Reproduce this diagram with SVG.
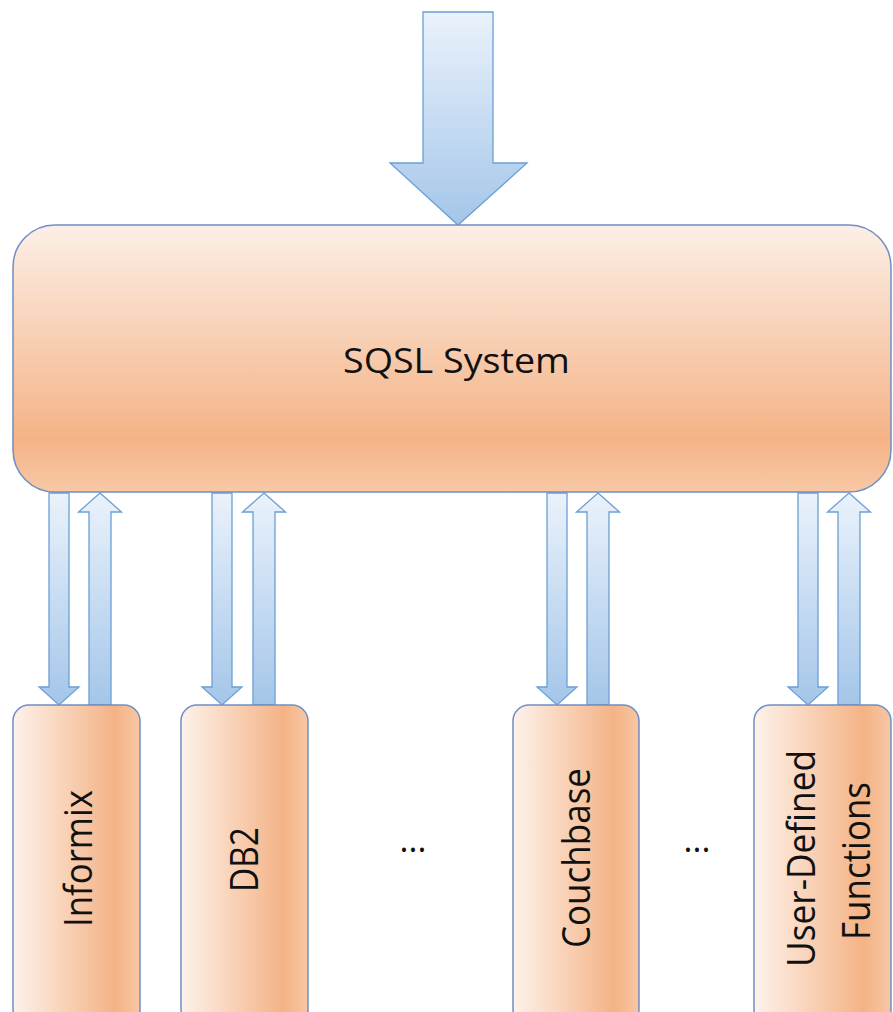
<svg xmlns="http://www.w3.org/2000/svg" xmlns:xlink="http://www.w3.org/1999/xlink" width="893" height="1012" viewBox="0 0 893 1012">
  <defs>
    <linearGradient id="gMain" x1="0" y1="0" x2="0" y2="1">
      <stop offset="0" stop-color="#fcefe7"/>
      <stop offset="0.8" stop-color="#f4b386"/>
      <stop offset="1" stop-color="#f8c8a6"/>
    </linearGradient>
    <linearGradient id="gSide" x1="0" y1="0" x2="1" y2="0">
      <stop offset="0" stop-color="#fdf2eb"/>
      <stop offset="0.8" stop-color="#f4b386"/>
      <stop offset="1" stop-color="#f8c6a3"/>
    </linearGradient>
    <linearGradient id="gArrow" x1="0" y1="0" x2="0" y2="1">
      <stop offset="0" stop-color="#eaf2fb"/>
      <stop offset="1" stop-color="#a4c6e9"/>
    </linearGradient>
    <path id="down" d="M-10,0 H10 V194 H20 L0,212 L-20,194 H-10 Z"/>
    <path id="up" d="M0,0 L21.5,19 H11 V212 H-11 V19 H-21.5 Z"/>
  </defs>
  <style>
    .box { stroke: #6f8ec5; stroke-width: 1.5; }
    .arrow { fill: url(#gArrow); stroke: #6a9fd6; stroke-width: 1.3; stroke-linejoin: miter; }
    .lbl { font-family: "Open Sans", "Liberation Sans", sans-serif; fill: #111111; }
  </style>

  <g id="connectors">
    <polygon id="input-arrow" class="arrow" points="423,12 493,12 493,163 527,163 458,225 390,163 423,163"/>
    <use class="arrow" xlink:href="#down" x="59" y="493"/>
    <use class="arrow" xlink:href="#up" x="100" y="493"/>
    <use class="arrow" xlink:href="#down" x="222" y="493"/>
    <use class="arrow" xlink:href="#up" x="264" y="493"/>
    <use class="arrow" xlink:href="#down" x="557" y="493"/>
    <use class="arrow" xlink:href="#up" x="598" y="493"/>
    <use class="arrow" xlink:href="#down" x="808" y="493"/>
    <use class="arrow" xlink:href="#up" x="849" y="493"/>
  </g>

  <g id="sqsl-system">
    <rect class="box" x="13" y="225" width="878" height="267" rx="42" ry="42" fill="url(#gMain)"/>
    <text class="lbl" x="456.5" y="373" font-size="35" text-anchor="middle" textLength="227" lengthAdjust="spacingAndGlyphs">SQSL System</text>
  </g>

  <g id="informix">
    <rect class="box" x="13" y="705" width="127" height="320" rx="16" ry="16" fill="url(#gSide)"/>
    <text class="lbl" transform="translate(77,858.5) rotate(-90)" x="0" y="15" font-size="39" text-anchor="middle" textLength="137" lengthAdjust="spacingAndGlyphs">Informix</text>
  </g>

  <g id="db2">
    <rect class="box" x="181" y="705" width="127" height="320" rx="16" ry="16" fill="url(#gSide)"/>
    <text class="lbl" transform="translate(244,859.5) rotate(-90)" x="0" y="14" font-size="39" text-anchor="middle" textLength="65" lengthAdjust="spacingAndGlyphs">DB2</text>
  </g>

  <g id="ellipsis-1">
    <text class="lbl" x="413" y="852" font-size="34" text-anchor="middle">...</text>
  </g>

  <g id="couchbase">
    <rect class="box" x="513" y="705" width="126" height="320" rx="16" ry="16" fill="url(#gSide)"/>
    <text class="lbl" transform="translate(576,858) rotate(-90)" x="0" y="14" font-size="39" text-anchor="middle" textLength="180" lengthAdjust="spacingAndGlyphs">Couchbase</text>
  </g>

  <g id="ellipsis-2">
    <text class="lbl" x="697" y="852" font-size="34" text-anchor="middle">...</text>
  </g>

  <g id="user-defined-functions">
    <rect class="box" x="754" y="705" width="137" height="320" rx="16" ry="16" fill="url(#gSide)"/>
    <text class="lbl" transform="translate(801,858.5) rotate(-90)" x="0" y="14" font-size="39" text-anchor="middle" textLength="217" lengthAdjust="spacingAndGlyphs">User-Defined</text>
    <text class="lbl" transform="translate(856,861) rotate(-90)" x="0" y="14" font-size="39" text-anchor="middle" textLength="158" lengthAdjust="spacingAndGlyphs">Functions</text>
  </g>
</svg>
